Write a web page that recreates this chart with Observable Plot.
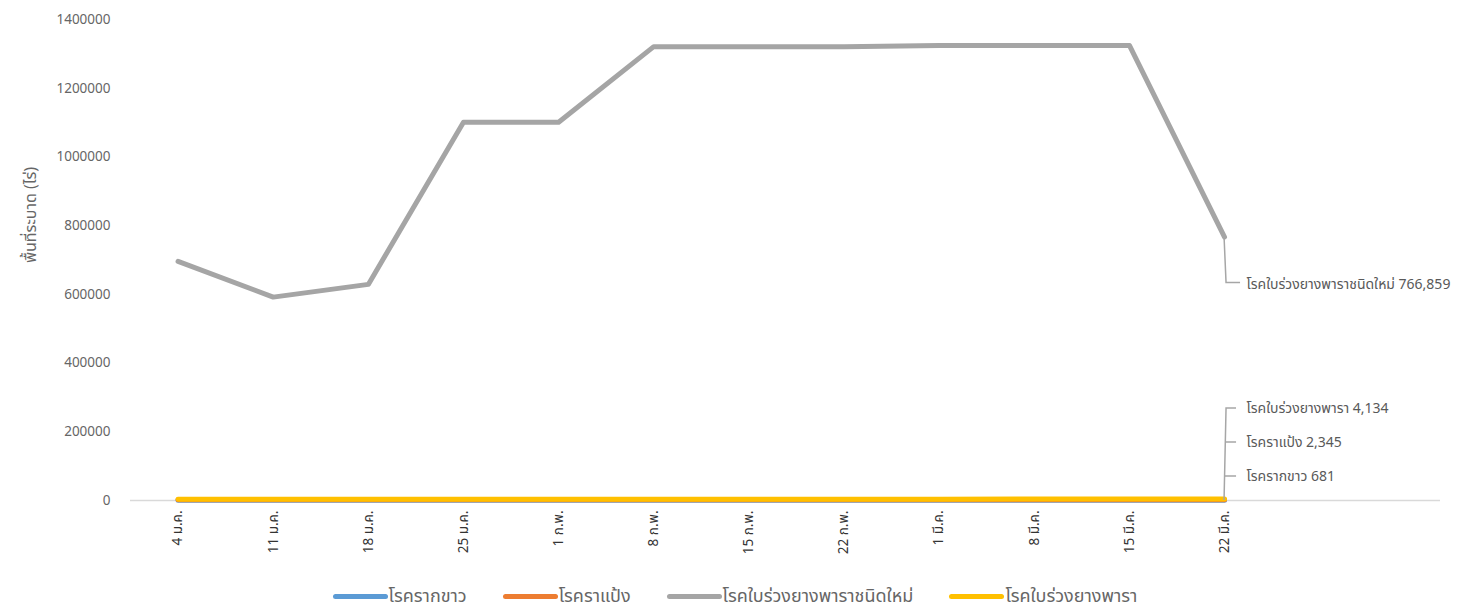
<!DOCTYPE html>
<html>
<head>
<meta charset="utf-8">
<script src="https://cdn.jsdelivr.net/npm/d3@7"></script>
<script src="https://cdn.jsdelivr.net/npm/@observablehq/plot@0.6"></script>
<style>
  html, body { margin: 0; padding: 0; background: #fff; }
  body { width: 1458px; height: 612px; overflow: hidden; font-family: "Noto Sans Thai", "Noto Sans", "DejaVu Sans", sans-serif; }
  #legend { display: flex; justify-content: center; align-items: center; gap: 36px; height: 32px; margin-left: 12px; font-size: 18px; color: #666; }
  .item { display: flex; align-items: center; }
  .sw { width: 55px; height: 5px; border-radius: 3px; margin-right: 1px; }
</style>
</head>
<body>
<div id="chart"></div>
<div id="legend"></div>
<script>
// Weekly survey dates (week starting)
const weeks = ["4 ม.ค.", "11 ม.ค.", "18 ม.ค.", "25 ม.ค.", "1 ก.พ.", "8 ก.พ.", "15 ก.พ.", "22 ก.พ.", "1 มี.ค.", "8 มี.ค.", "15 มี.ค.", "22 มี.ค."];

// Infested area (rai) per disease
const whiteRoot = [520, 550, 580, 600, 615, 630, 640, 650, 660, 668, 675, 681];
const powderyMildew = [1850, 1920, 2000, 2080, 2130, 2180, 2220, 2260, 2290, 2310, 2330, 2345];
const newLeafFall = [696000, 592000, 629000, 1101000, 1101000, 1321000, 1321000, 1320500, 1324000, 1324500, 1324500, 766859];
const leafFall = [3300, 3450, 3550, 3650, 3750, 3820, 3880, 3930, 3990, 4040, 4090, 4134];

const seriesNames = ["โรครากขาว", "โรคราแป้ง", "โรคใบร่วงยางพาราชนิดใหม่", "โรคใบร่วงยางพารา"];
const seriesValues = [whiteRoot, powderyMildew, newLeafFall, leafFall];
const seriesColors = ["#5b9bd5", "#ed7d31", "#a5a5a5", "#ffc000"];

const yTicks = [0, 200000, 400000, 600000, 800000, 1000000, 1200000, 1400000];
const yLabel = "พื้นที่ระบาด (ไร่)";

const rows = seriesNames.flatMap((name, s) =>
  seriesValues[s].map((v, i) => ({ series: name, i, week: weeks[i], value: v })));
const last = weeks.length - 1;
const endRows = rows.filter(d => d.i === last);

const font = `"Noto Sans Thai", "Noto Sans", "DejaVu Sans", sans-serif`;
const textColor = "#666";

// Leader lines joining the last point of each series to its value label
function leaders(index, scales) {
  const x0 = scales.x(last), g = d3.create("svg:g")
    .attr("fill", "none").attr("stroke", "#a6a6a6").attr("stroke-width", 1.5);
  const yNew = scales.y(newLeafFall[last]);
  g.append("path").attr("d", `M${x0},${yNew}L${x0 + 2},${yNew + 46}L${x0 + 16},${yNew + 46}`);
  const yb = scales.y(0);
  g.append("path").attr("d", `M${x0},${yb}L${x0 + 2},${yb - 92}L${x0 + 12},${yb - 92}`);
  g.append("path").attr("d", `M${x0 + 1.3},${yb - 58}L${x0 + 12},${yb - 58}`);
  g.append("path").attr("d", `M${x0 + 0.6},${yb - 24}L${x0 + 12},${yb - 24}`);
  return g.node();
}

const fmt = d3.format(",");
const smallOffsets = { "โรครากขาว": -24, "โรคราแป้ง": -58, "โรคใบร่วงยางพารา": -92 };

const chart = Plot.plot({
  width: 1458,
  height: 580,
  marginLeft: 130,
  marginRight: 18,
  marginTop: 19,
  marginBottom: 80,
  style: { fontFamily: font, fontSize: "13.5px", color: textColor, background: "#fff" },
  x: { type: "linear", domain: [-0.5, last + 2.27] },
  y: { domain: [0, 1400000] },
  color: { domain: seriesNames, range: seriesColors },
  marks: [
    Plot.axisY({ ticks: yTicks, tickFormat: d => String(d), tickSize: 0, tickPadding: 20, label: null, fill: textColor, fontSize: 13.5 }),
    Plot.axisX({ ticks: d3.range(weeks.length), tickFormat: i => weeks[i], tickRotate: -90, tickSize: 0, tickPadding: 10, label: null, fill: "#333", fontSize: 13.5 }),
    Plot.text([yLabel], { frameAnchor: "left", textAnchor: "middle", rotate: -90, dx: -100, dy: -45, fontSize: 16, fill: textColor }),
    Plot.ruleY([0], { stroke: "#d9d9d9", strokeWidth: 1.5 }),
    Plot.line(rows, { x: "i", y: "value", z: "series", stroke: "series", strokeWidth: 5, strokeLinejoin: "round", strokeLinecap: "round" }),
    leaders,
    Plot.text(endRows.filter(d => d.series === seriesNames[2]), {
      x: "i", y: "value", text: d => `${d.series} ${fmt(d.value)}`,
      textAnchor: "start", dx: 22, dy: 47, fontSize: 14, fill: "#595959"
    }),
    ...Object.entries(smallOffsets).map(([name, off]) =>
      Plot.text(endRows.filter(d => d.series === name), {
        x: "i", y: () => 0, text: d => `${d.series} ${fmt(d.value)}`,
        textAnchor: "start", dx: 22, dy: off, fontSize: 14, fill: "#595959"
      }))
  ]
});
document.getElementById("chart").appendChild(chart);

const legend = d3.select("#legend");
seriesNames.forEach((name, s) => {
  const item = legend.append("div").attr("class", "item");
  item.append("div").attr("class", "sw").style("background", seriesColors[s]);
  item.append("span").text(name);
});
</script>
</body>
</html>
